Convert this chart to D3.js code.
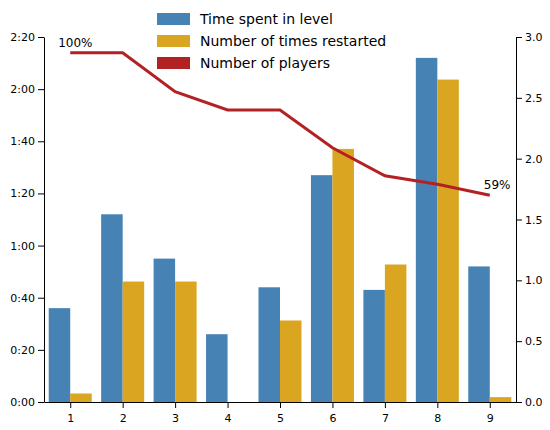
<!DOCTYPE html>
<html><head><meta charset="utf-8">
<script src="https://cdn.jsdelivr.net/npm/d3@7"></script>
<style>body{margin:0;background:#fff}text{font-family:"DejaVu Sans",sans-serif}</style>
</head><body><svg id="c" width="550" height="430"></svg>
<script>
const levels=[1,2,3,4,5,6,7,8,9];
const timeSec=[36,72,55,26,44,87,43,132,52];
const restarts=[0.07,0.99,0.99,0,0.67,2.08,1.13,2.65,0.04];
const players=[2.87,2.87,2.55,2.40,2.40,2.09,1.86,1.79,1.70];
const leftTicks=[0,20,40,60,80,100,120,140];
const rightTicks=[0,0.5,1,1.5,2,2.5,3];
const legendLabels=["Time spent in level","Number of times restarted","Number of players"];
const colors=["#4682b4","#daa520","#b22222"];

const svg=d3.select("#c");
const L=44,R=516,T=37,B=402;
const x=d3.scaleLinear().domain([0.5,9.5]).range([L,R]);
const yl=d3.scaleLinear().domain([0,140]).range([B,T]);
const yr=d3.scaleLinear().domain([0,3]).range([B,T]);
const bw=21.5;
const fmt=s=>Math.floor(s/60)+":"+String(s%60).padStart(2,"0");

svg.append("g").selectAll("rect").data(levels).join("rect")
 .attr("x",(d)=>x(d)-bw).attr("width",bw).attr("y",(d,i)=>yl(timeSec[i])).attr("height",(d,i)=>B-yl(timeSec[i])).attr("fill",colors[0]);
svg.append("g").selectAll("rect").data(levels).join("rect")
 .attr("x",(d)=>x(d)).attr("width",bw).attr("y",(d,i)=>yr(restarts[i])).attr("height",(d,i)=>B-yr(restarts[i])).attr("fill",colors[1]);
svg.append("path").datum(levels).attr("fill","none").attr("stroke",colors[2]).attr("stroke-width",3)
 .attr("d",d3.line().x(d=>x(d)).y((d,i)=>yr(players[i])));
svg.append("text").attr("x",x(1)-12).attr("y",yr(players[0])-6).attr("font-size",12).text("100%");
svg.append("text").attr("x",x(9)-6).attr("y",yr(players[8])-6).attr("font-size",12).text(Math.round(players[8]/players[0]*100)+"%");

const ax=(g)=>{g.selectAll("text").attr("font-size",11).attr("fill","#000");g.selectAll("line,path").attr("stroke","#000");};
svg.append("g").attr("transform",`translate(0,${B})`).call(d3.axisBottom(x).tickValues(levels).tickSizeOuter(0).tickPadding(6)).call(ax);
svg.append("g").attr("transform",`translate(${L},0)`).call(d3.axisLeft(yl).tickValues(leftTicks).tickFormat(fmt).tickSizeOuter(0)).call(ax);
svg.append("g").attr("transform",`translate(${R},0)`).call(d3.axisRight(yr).tickValues(rightTicks).tickFormat(d3.format(".1f")).tickSizeOuter(0)).call(ax);

const lg=svg.append("g");
legendLabels.forEach((t,i)=>{
 lg.append("rect").attr("x",157).attr("y",13+i*22).attr("width",33).attr("height",12).attr("fill",colors[i]);
 lg.append("text").attr("x",200).attr("y",24+i*22).attr("font-size",14).text(t);
});
</script></body></html>
